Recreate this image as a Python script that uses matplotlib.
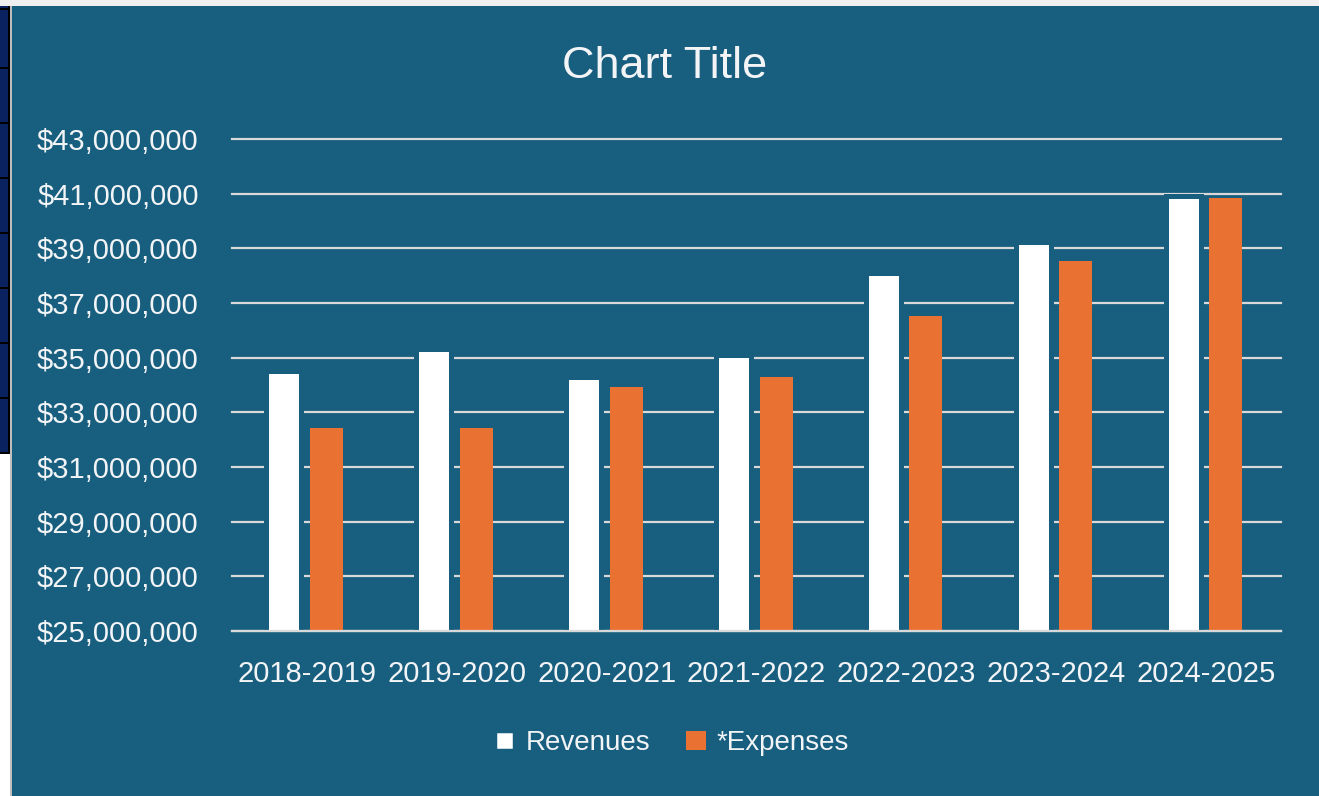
import numpy as np
import matplotlib
matplotlib.use('Agg')
import matplotlib.pyplot as plt
from matplotlib.patches import Rectangle, Patch
from matplotlib.ticker import FuncFormatter

# fiscal years and amounts
years = ["2018-2019", "2019-2020", "2020-2021", "2021-2022", "2022-2023", "2023-2024", "2024-2025"]
revenues = [34_510_000, 35_310_000, 34_310_000, 35_100_000, 38_110_000, 39_250_000, 40_920_000]
expenses = [32_420_000, 32_420_000, 33_920_000, 34_300_000, 36_520_000, 38_540_000, 40_830_000]
y_ticks = np.arange(25_000_000, 43_000_001, 2_000_000)

BG = '#175E7F'
ORANGE = '#E97132'
TXT = '#F2F4F6'
GRID = '#D9D9D9'

W, H = 1319, 796
plt.rcParams['font.family'] = ['Liberation Sans', 'DejaVu Sans']

fig = plt.figure(figsize=(W / 100, H / 100), dpi=100, facecolor=BG)

def px(x0, y0, w, h, color, z=0):
    # rectangle in pixel units, measured from the top-left corner
    fig.add_artist(Rectangle((x0 / W, 1 - (y0 + h) / H), w / W, h / H,
                             transform=fig.transFigure, facecolor=color,
                             edgecolor='none', zorder=z))

# spreadsheet bits peeking out around the chart
px(0, 0, W, 6, '#F0F0F0')
px(0, 6, 12, H, '#FFFFFF')
px(0, 6, 8, 447, '#0B2260')
for yy in [8, 67, 122, 177, 232, 287, 342, 397, 452]:
    px(0, yy, 8, 2, '#000000')
px(8, 6, 2, 448, '#000000')
px(10, 6, 2, H, '#BFBFBF')

ax = fig.add_axes([232 / W, 1 - 631 / H, (1281 - 232) / W, (631 - 139) / H])
ax.set_facecolor(BG)

x = np.arange(len(years))
unit = (1281 - 232) / len(years)   # pixels per category
ax.bar(x - 23 / unit, revenues, width=35 / unit, color='white', edgecolor=BG,
       linewidth=3.6, zorder=3)
ax.bar(x + 19.5 / unit, expenses, width=33 / unit, color=ORANGE, linewidth=0, zorder=2)

ax.set_xlim(-0.5, len(years) - 0.5)
ax.set_ylim(y_ticks[0], y_ticks[-1])
ax.set_yticks(y_ticks)
ax.yaxis.set_major_formatter(FuncFormatter(lambda v, p: '${:,.0f}'.format(v)))
ax.set_xticks(x)
ax.set_xticklabels(years)
ax.tick_params(length=0, labelsize=21, colors=TXT)
ax.tick_params(axis='y', pad=24)
ax.tick_params(axis='x', pad=21)
ax.grid(True, axis='y', color=GRID, linewidth=1.6, zorder=1)
ax.set_axisbelow(True)
for gl in ax.get_ygridlines():
    gl.set_clip_on(False)
for s in ['left', 'right', 'top']:
    ax.spines[s].set_visible(False)
ax.spines['bottom'].set_color(GRID)
ax.spines['bottom'].set_linewidth(1.6)
ax.spines['bottom'].set_zorder(5)

fig.text(665 / W, 1 - 66 / H, 'Chart Title', color=TXT, fontsize=32.5,
         ha='center', va='center')

handles = [Patch(facecolor='white', edgecolor=BG, linewidth=2.5, label='Revenues'),
           Patch(facecolor=ORANGE, edgecolor='none', label='*Expenses')]
fig.legend(handles=handles, loc='center', bbox_to_anchor=(672 / W, 1 - 743 / H),
           ncol=2, frameon=False, fontsize=20, labelcolor=TXT,
           handlelength=0.7, handleheight=0.7, handletextpad=0.4,
           columnspacing=1.3)

fig.savefig('out.png', dpi=100, facecolor=BG)
